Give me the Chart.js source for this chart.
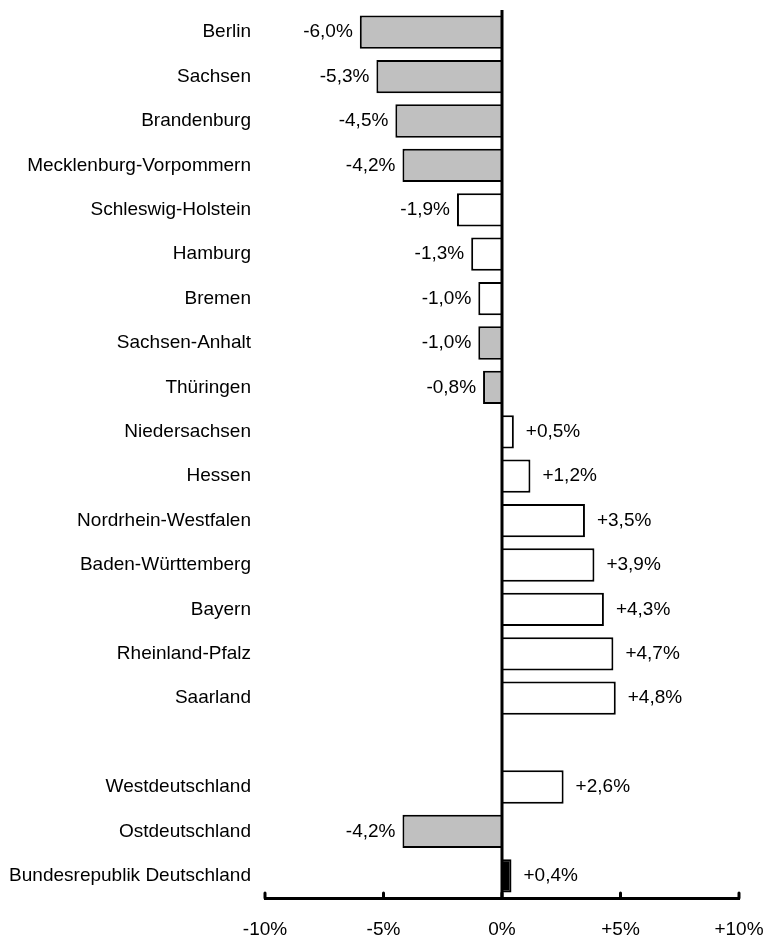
<!DOCTYPE html>
<html>
<head>
<meta charset="utf-8">
<script src="https://cdn.jsdelivr.net/npm/chart.js@4/dist/chart.umd.min.js"></script>
<style>
  body { margin: 0; background: #fff; }
  #wrap { width: 765px; height: 936px; }
</style>
</head>
<body>
<div id="wrap"><canvas id="chart"></canvas></div>
<script>
// Data
const states = [
  "Berlin",
  "Sachsen",
  "Brandenburg",
  "Mecklenburg-Vorpommern",
  "Schleswig-Holstein",
  "Hamburg",
  "Bremen",
  "Sachsen-Anhalt",
  "Thüringen",
  "Niedersachsen",
  "Hessen",
  "Nordrhein-Westfalen",
  "Baden-Württemberg",
  "Bayern",
  "Rheinland-Pfalz",
  "Saarland",
  "",
  "Westdeutschland",
  "Ostdeutschland",
  "Bundesrepublik Deutschland",
];
const change = [
  -6.0, -5.3, -4.5, -4.2, -1.9, -1.3, -1.0, -1.0, -0.8,
  0.5, 1.2, 3.5, 3.9, 4.3, 4.7, 4.8,
  null,
  2.6, -4.2, 0.4,
];
const region = [
  "ost", "ost", "ost", "ost", "west", "west", "west", "ost", "ost",
  "west", "west", "west", "west", "west", "west", "west",
  null,
  "west", "ost", "bund",
];
const xTicks = [-10, -5, 0, 5, 10];

const fillFor = { ost: "#c0c0c0", west: "#ffffff", bund: "#000000" };
const FONT = "Arial, 'Liberation Sans', sans-serif";
const SIZE = 19;

function fmtPct(v) {
  const s = v.toFixed(1).replace(".", ",");
  return (v > 0 ? "+" : "") + s + "%";
}

// value labels, zero line and inner tick marks
const extras = {
  id: "extras",
  afterDatasetsDraw(chart) {
    const ctx = chart.ctx;
    const x = chart.scales.x;
    const area = chart.chartArea;
    ctx.save();

    const x0 = x.getPixelForValue(0);
    ctx.strokeStyle = "#000";
    ctx.lineWidth = 3;
    ctx.beginPath();
    ctx.moveTo(x0, area.top);
    ctx.lineTo(x0, area.bottom);
    ctx.stroke();

    ctx.lineCap = "round";
    xTicks.forEach((t) => {
      const px = x.getPixelForValue(t);
      ctx.beginPath();
      ctx.moveTo(px, area.bottom);
      ctx.lineTo(px, area.bottom - 5);
      ctx.stroke();
    });

    ctx.font = SIZE + "px " + FONT;
    ctx.fillStyle = "#000";
    ctx.textBaseline = "middle";
    chart.getDatasetMeta(0).data.forEach((bar, i) => {
      const v = change[i];
      if (v === null) return;
      if (v < 0) {
        ctx.textAlign = "right";
        ctx.fillText(fmtPct(v), bar.x - 7, bar.y);
      } else {
        ctx.textAlign = "left";
        ctx.fillText(fmtPct(v), bar.x + 12, bar.y);
      }
    });
    ctx.restore();
  },
};

new Chart(document.getElementById("chart"), {
  type: "bar",
  data: {
    labels: states,
    datasets: [
      {
        data: change,
        backgroundColor: region.map((r) => (r ? fillFor[r] : "transparent")),
        borderColor: "#000",
        borderWidth: 2,
        borderSkipped: "start",
        categoryPercentage: 1,
        barPercentage: 0.75,
      },
    ],
  },
  options: {
    indexAxis: "y",
    responsive: true,
    maintainAspectRatio: false,
    animation: false,
    layout: { padding: { top: 10, right: 26, left: 0, bottom: 0 } },
    plugins: {
      legend: { display: false },
      tooltip: { enabled: false },
    },
    scales: {
      x: {
        min: -10,
        max: 10,
        afterBuildTicks: (scale) => {
          scale.ticks = xTicks.map((v) => ({ value: v }));
        },
        afterFit: (scale) => {
          scale.height = 38;
          scale.paddingLeft = 0;
          scale.paddingRight = 0;
        },
        grid: { display: false, drawTicks: false },
        border: { display: true, color: "#000", width: 3 },
        ticks: {
          color: "#000",
          font: { family: FONT, size: SIZE },
          padding: 20,
          maxRotation: 0,
          callback: (v) => (v === 0 ? "0%" : (v > 0 ? "+" : "") + v + "%"),
        },
      },
      y: {
        afterFit: (scale) => {
          scale.width = 265;
          scale.paddingTop = 0;
          scale.paddingBottom = 0;
        },
        grid: { display: false, drawTicks: false },
        border: { display: false },
        ticks: {
          color: "#000",
          font: { family: FONT, size: SIZE },
          padding: 14,
          autoSkip: false,
        },
      },
    },
  },
  plugins: [extras],
});
</script>
</body>
</html>
